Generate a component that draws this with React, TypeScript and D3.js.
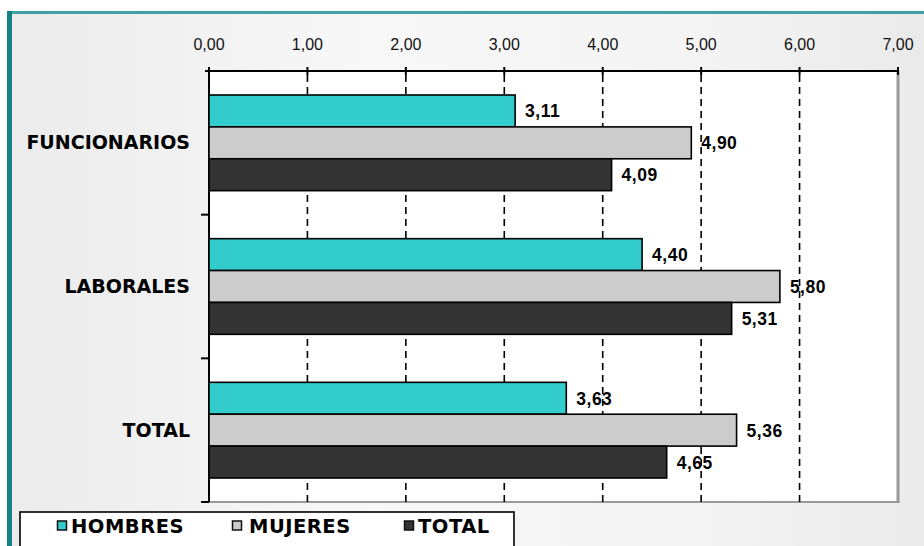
import React from "react";
import * as d3 from "d3";

const categories = ["FUNCIONARIOS", "LABORALES", "TOTAL"];
const seriesNames = ["HOMBRES", "MUJERES", "TOTAL"];
const hombres = [3.11, 4.4, 3.63];
const mujeres = [4.9, 5.8, 5.36];
const total = [4.09, 5.31, 4.65];
const xTicks = [0, 1, 2, 3, 4, 5, 6, 7];

const seriesValues = [hombres, mujeres, total];
const seriesColors = ["#33cccc", "#cccccc", "#333333"];

const W = 924;
const H = 546;
const plot = { left: 209, right: 898, top: 71, bottom: 502 };

const fmt = (v: number) => v.toFixed(2).replace(".", ",");

export default function App() {
  const x = d3.scaleLinear().domain([0, 7]).range([plot.left, plot.right]);
  const yCat = d3
    .scaleBand<string>()
    .domain(categories)
    .range([plot.top, plot.bottom])
    .paddingInner(0)
    .paddingOuter(0);
  const bw = yCat.bandwidth();
  const ySeries = d3
    .scaleBand<string>()
    .domain(seriesNames)
    .range([24, bw - 24])
    .paddingInner(0);

  const catBounds = [...categories.map((c) => yCat(c) as number), plot.bottom];

  return (
    <svg
      width={W}
      height={H}
      style={{ position: "absolute", left: 0, top: 0, display: "block" }}
    >
      <defs>
        <linearGradient id="bg" x1="0" y1="0" x2="1" y2="0">
          <stop offset="0" stopColor="#ebebeb" />
          <stop offset="0.4" stopColor="#f8f8f8" />
          <stop offset="0.75" stopColor="#f4f4f4" />
          <stop offset="1" stopColor="#eaeaea" />
        </linearGradient>
      </defs>
      <rect x={0} y={0} width={W} height={H} fill="#ffffff" />
      <rect x={7} y={12} width={W - 7} height={H - 12} fill="url(#bg)" />
      {/* frame */}
      <rect x={7} y={11} width={W - 7} height={3} fill="#3fa3a3" />
      <rect x={7} y={11} width={5} height={H - 11} fill="#128282" />

      {/* plot area */}
      <rect
        x={plot.left}
        y={plot.top}
        width={plot.right - plot.left}
        height={plot.bottom - plot.top}
        fill="#ffffff"
      />
      <line
        x1={plot.right}
        x2={plot.right}
        y1={plot.top}
        y2={plot.bottom + 1}
        stroke="#9a9a9a"
        strokeWidth={3}
      />
      <line
        x1={plot.left}
        x2={plot.right + 1.5}
        y1={plot.bottom}
        y2={plot.bottom}
        stroke="#9a9a9a"
        strokeWidth={2}
      />

      {/* dashed gridlines */}
      {xTicks.slice(1, -1).map((t) => (
        <line
          key={"g" + t}
          x1={x(t)}
          x2={x(t)}
          y1={plot.top + 4}
          y2={plot.bottom}
          stroke="#000"
          strokeWidth={1.6}
          strokeDasharray="7,5"
        />
      ))}

      {/* top axis */}
      <line
        x1={plot.left - 4}
        x2={plot.right}
        y1={plot.top}
        y2={plot.top}
        stroke="#000"
        strokeWidth={2}
      />
      {xTicks.map((t) => (
        <g key={"t" + t}>
          <line
            x1={x(t)}
            x2={x(t)}
            y1={plot.top - 4}
            y2={plot.top + 4}
            stroke="#000"
            strokeWidth={2}
          />
          <text
            x={x(t)}
            y={50}
            textAnchor="middle"
            fontFamily="Liberation Sans, Arial, sans-serif"
            fontSize={16}
            fill="#111"
          >
            {fmt(t)}
          </text>
        </g>
      ))}

      {/* left axis */}
      <line
        x1={plot.left}
        x2={plot.left}
        y1={plot.top}
        y2={plot.bottom}
        stroke="#000"
        strokeWidth={2}
      />
      {catBounds.slice(1).map((b, i) => (
        <line
          key={"ct" + i}
          x1={plot.left - 8}
          x2={plot.left}
          y1={b}
          y2={b}
          stroke="#000"
          strokeWidth={2}
        />
      ))}

      {/* bars */}
      {categories.map((c, ci) => (
        <g key={c} transform={`translate(0,${yCat(c)})`}>
          {seriesNames.map((s, si) => {
            const v = seriesValues[si][ci];
            const y0 = ySeries(s) as number;
            const h = ySeries.bandwidth();
            return (
              <g key={s}>
                <rect
                  x={x(0)}
                  y={y0}
                  width={x(v) - x(0)}
                  height={h}
                  fill={seriesColors[si]}
                  stroke="#000"
                  strokeWidth={1.6}
                />
                <text
                  x={x(v) + 10}
                  y={y0 + h / 2 + 6.5}
                  fontFamily="Liberation Sans, Arial, sans-serif"
                  fontWeight="bold"
                  fontSize={17.5}
                  letterSpacing={0.5}
                  fill="#000"
                >
                  {fmt(v)}
                </text>
              </g>
            );
          })}
          <text
            x={190}
            y={bw / 2 + 6.5}
            textAnchor="end"
            fontFamily="DejaVu Sans, sans-serif"
            fontWeight="bold"
            fontSize={19}
            fill="#000"
          >
            {c}
          </text>
        </g>
      ))}

      {/* legend */}
      <rect
        x={20}
        y={512}
        width={494}
        height={60}
        fill="#ffffff"
        stroke="#000"
        strokeWidth={1.6}
      />
      {seriesNames.map((s, i) => {
        const lx = [57, 232, 404][i];
        const tx = [71, 249, 418][i];
        return (
          <g key={"l" + s}>
            <rect
              x={lx + 0.5}
              y={521}
              width={9}
              height={9}
              fill={seriesColors[i]}
              stroke="#111"
              strokeWidth={1.5}
            />
            <text
              x={tx}
              y={533}
              fontFamily="DejaVu Sans, sans-serif"
              fontWeight="bold"
              fontSize={19.5}
              letterSpacing={0.5}
              fill="#000"
            >
              {s}
            </text>
          </g>
        );
      })}
    </svg>
  );
}
